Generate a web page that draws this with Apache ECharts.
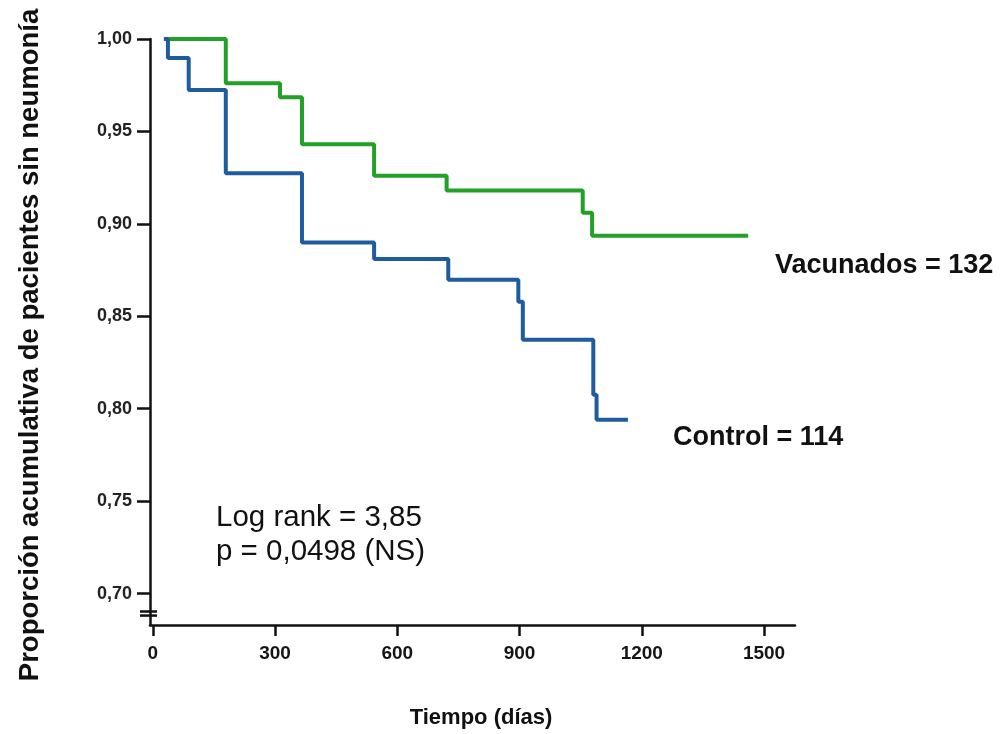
<!DOCTYPE html>
<html>
<head>
<meta charset="utf-8">
<script src="https://cdn.jsdelivr.net/npm/echarts@6/dist/echarts.min.js"></script>
<style>
html,body{margin:0;padding:0;background:#fff;}
#chart{width:1006px;height:734px;}
</style>
</head>
<body>
<div id="chart"></div>
<script>
// Vacunados (n = 132)
const vacDays = [29, 179, 312, 366, 543, 721, 1055, 1078, 1461];
const vacSurv = [1.000, 0.976, 0.9685, 0.943, 0.926, 0.918, 0.906, 0.8935, 0.8935];
// Control (n = 114)
const ctlDays = [27, 37, 88, 179, 366, 543, 725, 897, 908, 1081, 1089, 1166];
const ctlSurv = [1.000, 0.9897, 0.9724, 0.9274, 0.8899, 0.881, 0.8697, 0.8578, 0.8373, 0.8076, 0.794, 0.794];
const xTicks = [0, 300, 600, 900, 1200, 1500];
const yTicks = [0.70, 0.75, 0.80, 0.85, 0.90, 0.95, 1.00];
const seriesNames = ['Vacunados = 132', 'Control = 114'];
const statLines = ['Log rank = 3,85', 'p = 0,0498 (NS)'];
const yTitle = 'Proporción acumulativa de pacientes sin neumonía';
const xTitle = 'Tiempo (días)';

const pair = (xs, ys) => xs.map((x, i) => [x, ys[i]]);
const GREEN = '#22a028';
const BLUE = '#1f5c9e';

const chart = echarts.init(document.getElementById('chart'));
const X_MIN = -7, X_MAX = 1576, Y_MIN = 0.683, Y_MAX = 1.0;

chart.setOption({
  animation: false,
  backgroundColor: '#ffffff',
  grid: {left: 150, right: 211, top: 39, bottom: 109},
  xAxis: {
    type: 'value', min: X_MIN, max: X_MAX,
    splitLine: {show: false},
    axisLine: {onZero: false, lineStyle: {color: '#111', width: 2.5}},
    axisTick: {customValues: xTicks, length: 11, lineStyle: {color: '#111', width: 2.5}},
    axisLabel: {customValues: xTicks, margin: 19, color: '#151515',
      fontFamily: '"Liberation Sans", Arial, sans-serif', fontWeight: 'bold', fontSize: 19,
      formatter: v => String(v)}
  },
  yAxis: {
    type: 'value', min: Y_MIN, max: Y_MAX,
    splitLine: {show: false},
    axisLine: {show: true, onZero: false, lineStyle: {color: '#111', width: 2.5}},
    axisTick: {show: true, customValues: yTicks, length: 13, lineStyle: {color: '#111', width: 2.5}},
    axisLabel: {customValues: yTicks, margin: 18, color: '#222',
      fontFamily: '"Liberation Sans", Arial, sans-serif', fontWeight: 'bold', fontSize: 18,
      formatter: v => v.toFixed(2).replace('.', ',')}
  },
  series: [
    {name: seriesNames[0], type: 'line', step: 'end', data: pair(vacDays, vacSurv),
     showSymbol: false, lineStyle: {color: GREEN, width: 4}, itemStyle: {color: GREEN}},
    {name: seriesNames[1], type: 'line', step: 'end', data: pair(ctlDays, ctlSurv),
     showSymbol: false, lineStyle: {color: BLUE, width: 4}, itemStyle: {color: BLUE}}
  ]
});

// axis-break marker and annotation texts
const p1 = chart.convertToPixel({gridIndex: 0}, [X_MIN, 0.6903]);
const p2 = chart.convertToPixel({gridIndex: 0}, [X_MIN, 0.6881]);
const breakLine = p => ({type: 'line', shape: {x1: p[0] - 10, y1: p[1], x2: p[0] + 7, y2: p[1]},
  style: {stroke: '#111', lineWidth: 2.5}});
const txt = (x, y, text, size, weight, extra) => Object.assign({type: 'text', x: x, y: y,
  style: {text: text, fill: '#111', font: weight + ' ' + size + 'px "Liberation Sans", Arial, sans-serif',
    align: 'left', verticalAlign: 'middle'}}, extra || {});

chart.setOption({
  graphic: [
    {type: 'rect', shape: {x: p1[0] - 2, y: p1[1] + 1, width: 4, height: p2[1] - p1[1] - 2}, style: {fill: '#fff'}},
    breakLine(p1), breakLine(p2),
    txt(775, 266, seriesNames[0], 27, 'bold'),
    txt(673, 438, seriesNames[1], 27, 'bold'),
    txt(216, 518, statLines[0], 29.5, 'normal'),
    txt(216, 552, statLines[1], 29.5, 'normal'),
    {type: 'text', x: 30, y: 345, rotation: Math.PI / 2,
     style: {text: yTitle, fill: '#111', font: 'bold 27.5px "Liberation Sans", Arial, sans-serif',
       align: 'center', verticalAlign: 'middle'}},
    {type: 'text', x: 481, y: 718,
     style: {text: xTitle, fill: '#111', font: 'bold 22px "Liberation Sans", Arial, sans-serif',
       align: 'center', verticalAlign: 'middle'}}
  ]
});
</script>
</body>
</html>
